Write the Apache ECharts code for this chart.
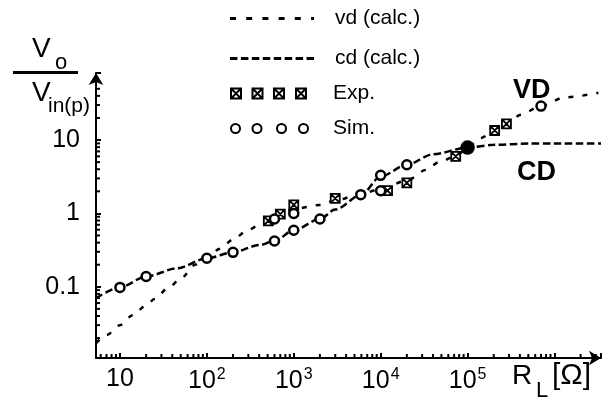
<!DOCTYPE html>
<html>
<head>
<meta charset="utf-8">
<script src="https://cdn.jsdelivr.net/npm/echarts@6/dist/echarts.min.js"></script>
<style>
  html, body { margin: 0; padding: 0; background: #fff; }
  #chart { width: 613px; height: 401px; }
</style>
</head>
<body>
<div id="chart"></div>
<script>
// axis extents (R_L in ohm, gain Vo/Vin(p))
const xMin = 5.3, xMax = 3.43e6
const yMin = 0.0107, yMax = 82

// calculated curves [R_L, Vo/Vin(p)]
const vdCalc = [
  [5.3, 0.017], [7, 0.022], [10, 0.030], [14, 0.041], [20, 0.056], [25, 0.068],
  [36, 0.097], [52, 0.135], [73, 0.20], [100, 0.255], [142, 0.33], [200, 0.44],
  [290, 0.58], [380, 0.67], [510, 0.80], [700, 0.98], [1000, 1.15], [2000, 1.3],
  [3000, 1.5], [6000, 1.85], [1e4, 2.15], [2e4, 2.8], [3.3e4, 3.9], [4.7e4, 5.0],
  [7.3e4, 6.0], [1e5, 7.9], [1.4e5, 10.6], [2e5, 13], [3e5, 17], [4e5, 22],
  [7e5, 29], [1.3e6, 38], [3.2e6, 44]
]
const cdCalc = [
  [5.3, 0.07], [10, 0.098], [20, 0.138], [45, 0.178], [100, 0.245], [200, 0.295],
  [400, 0.37], [600, 0.42], [1000, 0.59], [2000, 0.84], [3000, 1.13], [6000, 1.8],
  [1e4, 3.2], [2e4, 4.6], [4e4, 6.4], [1e5, 7.9], [2e5, 8.6], [5e5, 8.95],
  [1e6, 9.0], [3.43e6, 9.0]
]
// measured / simulated points
const expData = [
  [510, 0.79], [700, 0.98], [1000, 1.31], [3000, 1.6], [1.2e4, 2.04],
  [2.0e4, 2.6], [7.3e4, 6.0], [2.05e5, 13.5], [2.8e5, 16.6]
]
const simData = [
  [10, 0.098], [20, 0.138], [100, 0.245], [200, 0.295], [600, 0.42], [1000, 0.59],
  [2000, 0.84], [5900, 1.8], [1e4, 3.3], [2e4, 4.6],
  [600, 0.84], [1000, 1.0], [1e4, 2.04], [7e5, 29]
]
const simJoint = [[1e5, 7.9]]

// tick labels keyed by decade exponent
const xLabels = { 1: '10', 2: '10{s|2}', 3: '10{s|3}', 4: '10{s|4}', 5: '10{s|5}' }
const yLabels = { '-1': '0.1', 0: '1', 1: '10' }
const minorMult = [2, 3, 4, 5, 6, 7, 8, 9]

const FONT = 'Liberation Sans'

function decadeLabel(table) {
  return v => {
    const l = Math.log10(v)
    const e = Math.round(l)
    if (Math.abs(l - e) > 1e-6) return ''
    return table[e] || ''
  }
}

function minorTicks(lo, hi) {
  const out = []
  for (let e = -3; e <= 7; e++) {
    minorMult.forEach(m => {
      const v = m * Math.pow(10, e)
      if (v > lo && v < hi) out.push(v)
    })
  }
  return out
}

const xMinor = minorTicks(xMin, xMax).map(v => [v, yMin])
const yMinor = minorTicks(yMin, 60).map(v => [xMin, v])

// legend icons: dash patterns and 4 repeated markers
function dashIcon(n, period, dash, last) {
  let p = ''
  for (let i = 0; i < n; i++) {
    const x = i * period
    const w = i === n - 1 ? last : dash
    p += `M${x},0H${x + w}V3H${x}Z `
  }
  return 'path://' + p
}
let sqIcon = '', ciIcon = ''
;[0, 21.5, 43, 65].forEach(x => {
  sqIcon += `M${x},0H${x + 10}V10H${x}Z M${x},0L${x + 10},10 M${x + 10},0L${x},10 `
})
;[0, 21.5, 46, 68].forEach(x => {
  ciIcon += `M${x},5A4.5,4.5 0 1,0 ${x + 9},5A4.5,4.5 0 1,0 ${x},5Z `
})

const chart = echarts.init(document.getElementById('chart'), null, { renderer: 'canvas' })

const legendText = (pad) => ({ fontFamily: FONT, fontSize: 21, color: '#000', padding: [0, 0, 0, pad] })
const legendBase = { orient: 'vertical', left: 225, selectedMode: false }

const axisCommon = {
  type: 'log', logBase: 10,
  axisLine: { show: true, lineStyle: { color: '#000', width: 2 }, symbol: ['none', 'arrow'], symbolSize: [11, 12] },
  axisTick: { show: true, inside: true, length: 5, lineStyle: { color: '#000', width: 2 } },
  splitLine: { show: false },
  minorTick: { show: false },
  minorSplitLine: { show: false }
}

chart.setOption({
  animation: false,
  backgroundColor: '#fff',
  textStyle: { fontFamily: FONT },
  grid: { left: 96, right: 12, top: 73, bottom: 43 },
  legend: [
    { ...legendBase, top: 3, data: [{ name: 'vd (calc.)', icon: dashIcon(6, 16.2, 6, 3) }],
      itemWidth: 84, itemHeight: 3, textStyle: legendText(16) },
    { ...legendBase, top: 43, data: [{ name: 'cd (calc.)', icon: dashIcon(8, 11, 7.5, 7.5) }],
      itemWidth: 84, itemHeight: 3, textStyle: legendText(16) },
    { ...legendBase, top: 78, data: [{ name: 'Exp.', icon: 'path://' + sqIcon }],
      itemWidth: 75, itemHeight: 10, textStyle: legendText(22) },
    { ...legendBase, top: 113, data: [{ name: 'Sim.', icon: 'path://' + ciIcon }],
      itemWidth: 77, itemHeight: 10, textStyle: legendText(20) }
  ],
  xAxis: {
    ...axisCommon, min: xMin, max: xMax,
    axisLabel: {
      margin: 9, color: '#000', fontSize: 25, fontFamily: FONT,
      formatter: decadeLabel(xLabels),
      rich: { s: { fontSize: 16, fontFamily: FONT, verticalAlign: 'top', padding: [0, 0, 12, 1] } }
    }
  },
  yAxis: {
    ...axisCommon, min: yMin, max: yMax,
    axisLabel: {
      margin: 16, color: '#000', fontSize: 25, fontFamily: FONT,
      formatter: decadeLabel(yLabels)
    }
  },
  series: [
    // minor log ticks on both axes
    {
      name: 'xminor', type: 'scatter', silent: true, data: xMinor,
      symbol: 'rect', symbolSize: [2, 4], symbolOffset: [0, -2],
      itemStyle: { color: '#000', opacity: 1 }, z: 1
    },
    {
      name: 'yminor', type: 'scatter', silent: true, data: yMinor,
      symbol: 'rect', symbolSize: [4, 2], symbolOffset: [2, 0],
      itemStyle: { color: '#000', opacity: 1 }, z: 1
    },
    {
      name: 'vd (calc.)', type: 'line', data: vdCalc, symbol: 'none',
      smooth: 0.3, smoothMonotone: 'x',
      lineStyle: { color: '#000', width: 2.5, type: [5, 9] },
      itemStyle: { color: '#000' }
    },
    {
      name: 'cd (calc.)', type: 'line', data: cdCalc, symbol: 'none',
      smooth: 0.3, smoothMonotone: 'x',
      lineStyle: { color: '#000', width: 2.5, type: [7.5, 3.5] },
      itemStyle: { color: '#000' }
    },
    {
      name: 'Exp.', type: 'scatter', data: expData,
      symbol: 'path://M0,0H10V10H0Z M0,0L10,10 M10,0L0,10', symbolSize: 9,
      itemStyle: { color: '#fff', borderColor: '#000', borderWidth: 1.8, opacity: 1 }, z: 5
    },
    {
      name: 'Sim.', type: 'scatter',
      data: simData.concat(simJoint.map(v => ({ value: v, symbolSize: 12, itemStyle: { color: '#000' } }))),
      symbol: 'circle', symbolSize: 9,
      itemStyle: { color: '#fff', borderColor: '#000', borderWidth: 2.5, opacity: 1 }, z: 6
    }
  ],
  graphic: [
    // y axis title: Vo / Vin(p)
    { type: 'text', left: 32, top: 35, style: { text: 'V', font: '28px ' + FONT, fill: '#000' } },
    { type: 'text', left: 55, top: 52, style: { text: 'o', font: '22px ' + FONT, fill: '#000' } },
    { type: 'rect', shape: { x: 13, y: 71, width: 65, height: 3 }, style: { fill: '#000' } },
    { type: 'text', left: 32, top: 79, style: { text: 'V', font: '28px ' + FONT, fill: '#000' } },
    { type: 'text', left: 48, top: 96, style: { text: 'in(p)', font: '21px ' + FONT, fill: '#000' } },
    // x axis title: R_L [Ω]
    { type: 'text', left: 512, top: 362, style: { text: 'R', font: '28px ' + FONT, fill: '#000' } },
    { type: 'text', left: 536, top: 380, style: { text: 'L', font: '22px ' + FONT, fill: '#000' } },
    { type: 'text', left: 552, top: 361, style: { text: '[Ω]', font: '30px ' + FONT, fill: '#000' } },
    // curve labels
    { type: 'text', left: 513, top: 77, style: { text: 'VD', font: 'bold 27px ' + FONT, fill: '#000' } },
    { type: 'text', left: 517, top: 159, style: { text: 'CD', font: 'bold 27px ' + FONT, fill: '#000' } }
  ]
})

window.addEventListener('resize', () => chart.resize())
</script>
</body>
</html>
